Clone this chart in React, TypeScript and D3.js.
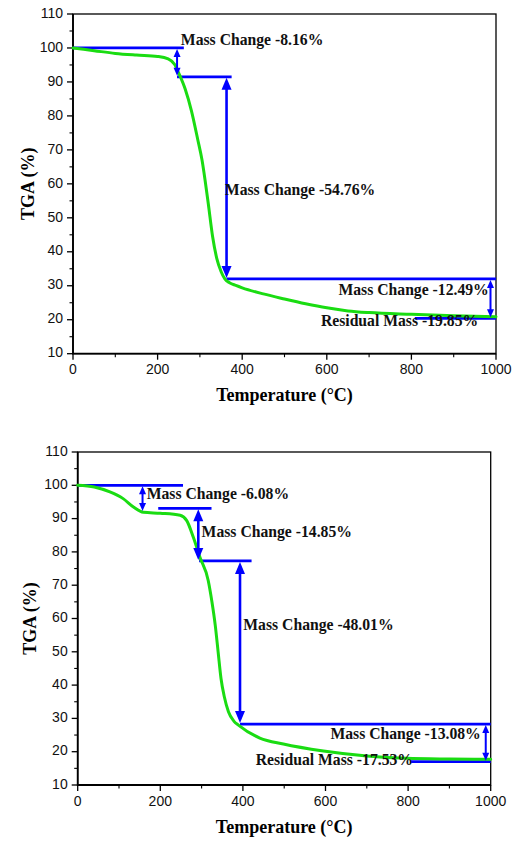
import React from "react";
import * as d3 from "d3";

// ---------- Data ----------
const xTicks = [0, 200, 400, 600, 800, 1000];
const yTicks = [10, 20, 30, 40, 50, 60, 70, 80, 90, 100, 110];

// Chart 1 curve
const temp1 = [0, 50, 100, 150, 200, 225, 240, 250, 265, 280, 295, 305, 312, 320, 330, 340, 350, 359, 370, 385, 400, 450, 500, 550, 600, 650, 700, 800, 900, 1000];
const tga1 = [100, 99.2, 98.4, 97.9, 97.5, 96.8, 95.2, 92.6, 88, 81.5, 73, 67, 61.3, 54, 44.5, 38, 34.2, 32, 30.9, 30.1, 29.4, 27.6, 26.1, 24.7, 23.5, 22.6, 22.1, 21.6, 21.2, 20.9];

// Chart 1 annotations (data coordinates)
const hLineY1 = [100, 91.5, 32, 20.4];
const hLineX1a = [0, 246, 363, 808];
const hLineX1b = [262, 375, 1000, 1000];
const arrowX1 = [246, 363, 987];
const arrowTop1 = [100, 91.5, 32];
const arrowBot1 = [91.5, 32, 20.4];
const arrowBig1 = [false, true, false];
const labels1 = ["Mass Change -8.16%", "Mass Change -54.76%", "Mass Change -12.49%", "Residual Mass -19.85%"];
const labelX1 = [255, 359, 983, 958];
const labelY1 = [101.9, 57.7, 28.3, 19.1];
const labelAnchor1 = ["start", "start", "end", "end"];

// Chart 2 curve
const temp2 = [0, 40, 78, 110, 135, 159, 200, 248, 264, 280, 296, 316, 325, 333, 340, 347, 355, 365, 378, 390, 441, 498, 595, 700, 796, 900, 1000];
const tga2 = [100, 99.5, 98, 96, 93.5, 91.9, 91.6, 91, 89.4, 84.4, 78.4, 71.4, 65, 58, 50, 42, 36.5, 32, 29.2, 27.9, 24.1, 22.3, 20.2, 18.7, 18.0, 17.8, 17.7];

// Chart 2 annotations
const hLineY2 = [100, 93.1, 77.3, 28.3, 17.0];
const hLineX2a = [0, 195, 294, 393, 805];
const hLineX2b = [255, 324, 421, 1000, 1000];
const arrowX2 = [157, 292, 393, 988];
const arrowTop2 = [100, 93.1, 77.3, 28.3];
const arrowBot2 = [92, 77.3, 28.3, 17.0];
const arrowBig2 = [false, true, true, false];
const labels2 = ["Mass Change -6.08%", "Mass Change -14.85%", "Mass Change -48.01%", "Mass Change -13.08%", "Residual Mass -17.53%"];
const labelX2 = [167, 300, 401, 976, 812];
const labelY2 = [97.1, 85.6, 57.5, 25.0, 17.2];
const labelAnchor2 = ["start", "start", "start", "end", "end"];

const BLUE = "#0000ff";
const GREEN = "#1adc12";
const SERIF = "'Liberation Serif', 'Times New Roman', serif";
const SANS = "'Liberation Sans', Arial, sans-serif";

type ChartProps = {
  left: number; right: number; top: number; bottom: number;
  temps: number[]; vals: number[];
  hY: number[]; hXa: number[]; hXb: number[];
  aX: number[]; aTop: number[]; aBot: number[]; aBig: boolean[];
  labels: string[]; lX: number[]; lY: number[]; lA: string[];
  tgaLabelX: number; tempLabelY: number;
};

function Chart(p: ChartProps) {
  const x = d3.scaleLinear().domain([0, 1000]).range([p.left, p.right]);
  const y = d3.scaleLinear().domain([10, 110]).range([p.bottom, p.top]);
  const pts: [number, number][] = p.temps.map((t, i) => [t, p.vals[i]]);
  const line = d3.line<[number, number]>().x(d => x(d[0])).y(d => y(d[1])).curve(d3.curveMonotoneX);
  const minorX = d3.range(100, 1000, 200);
  const minorY = d3.range(15, 110, 10);

  const arrow = (i: number) => {
    const ax = x(p.aX[i]);
    const y1 = y(p.aTop[i]);
    const y2 = y(p.aBot[i]);
    const big = p.aBig[i];
    const hw = big ? 5 : 3.5;
    const hl = big ? 13 : Math.min(9, (y2 - y1) / 2.2);
    return (
      <g key={"a" + i}>
        <line x1={ax} x2={ax} y1={y1 + hl - 1} y2={y2 - hl + 1} stroke={BLUE} strokeWidth={big ? 2.6 : 2} />
        <path d={`M${ax},${y1 + 1}L${ax - hw},${y1 + hl}L${ax + hw},${y1 + hl}Z`} fill={BLUE} />
        <path d={`M${ax},${y2 - 1}L${ax - hw},${y2 - hl}L${ax + hw},${y2 - hl}Z`} fill={BLUE} />
      </g>
    );
  };

  return (
    <g>
      {/* frame */}
      <rect x={p.left} y={p.top} width={p.right - p.left} height={p.bottom - p.top} fill="none" stroke="#000" strokeWidth={1.3} />
      <path d={`M${p.left},${p.top}V${p.bottom}H${p.right}`} fill="none" stroke="#000" strokeWidth={1.8} />
      {/* x ticks */}
      {xTicks.map(t => (
        <g key={"xt" + t}>
          <line x1={x(t)} x2={x(t)} y1={p.bottom} y2={p.bottom + 6} stroke="#000" strokeWidth={1.3} />
          <text x={x(t)} y={p.bottom + 17} textAnchor="middle" dominantBaseline="middle" fontFamily={SANS} fontSize={14} fill="#111">{t}</text>
        </g>
      ))}
      {minorX.map(t => (
        <line key={"xm" + t} x1={x(t)} x2={x(t)} y1={p.bottom} y2={p.bottom + 3.5} stroke="#000" strokeWidth={1.1} />
      ))}
      {/* y ticks */}
      {yTicks.map(t => (
        <g key={"yt" + t}>
          <line x1={p.left - 6} x2={p.left} y1={y(t)} y2={y(t)} stroke="#000" strokeWidth={1.3} />
          <text x={p.left - 10} y={y(t)} textAnchor="end" dominantBaseline="middle" fontFamily={SANS} fontSize={14} fill="#111">{t}</text>
        </g>
      ))}
      {minorY.map(t => (
        <line key={"ym" + t} x1={p.left - 3.5} x2={p.left} y1={y(t)} y2={y(t)} stroke="#000" strokeWidth={1.1} />
      ))}
      {/* axis titles */}
      <text x={(p.left + p.right) / 2} y={p.tempLabelY} textAnchor="middle" dominantBaseline="middle" fontFamily={SERIF} fontWeight="bold" fontSize={18}>Temperature (°C)</text>
      <text transform={`translate(${p.tgaLabelX},${(p.top + p.bottom) / 2}) rotate(-90)`} textAnchor="middle" dominantBaseline="middle" fontFamily={SERIF} fontWeight="bold" fontSize={18}>TGA (%)</text>
      {/* horizontal annotation lines */}
      {p.hY.map((v, i) => (
        <line key={"h" + i} x1={x(p.hXa[i])} x2={x(p.hXb[i])} y1={y(v)} y2={y(v)} stroke={BLUE} strokeWidth={2.8} />
      ))}
      {/* curve */}
      <path d={line(pts) || ""} fill="none" stroke={GREEN} strokeWidth={3} strokeLinejoin="round" strokeLinecap="round" />
      {/* arrows */}
      {p.aX.map((_, i) => arrow(i))}
      {/* labels */}
      {p.labels.map((s, i) => (
        <text key={"l" + i} x={x(p.lX[i])} y={y(p.lY[i])} textAnchor={p.lA[i] as any} dominantBaseline="middle" fontFamily={SERIF} fontWeight="bold" fontSize={15.7} fill="#111">{s}</text>
      ))}
    </g>
  );
}

export default function App() {
  return (
    <svg width={520} height={842} style={{ position: "absolute", left: 0, top: 0, background: "#fff" }}>
      <rect width={520} height={842} fill="#fff" />
      <Chart left={73} right={496} top={14} bottom={353.7}
        temps={temp1} vals={tga1}
        hY={hLineY1} hXa={hLineX1a} hXb={hLineX1b}
        aX={arrowX1} aTop={arrowTop1} aBot={arrowBot1} aBig={arrowBig1}
        labels={labels1} lX={labelX1} lY={labelY1} lA={labelAnchor1}
        tgaLabelX={30} tempLabelY={397} />
      <Chart left={77.7} right={490.7} top={452} bottom={785}
        temps={temp2} vals={tga2}
        hY={hLineY2} hXa={hLineX2a} hXb={hLineX2b}
        aX={arrowX2} aTop={arrowTop2} aBot={arrowBot2} aBig={arrowBig2}
        labels={labels2} lX={labelX2} lY={labelY2} lA={labelAnchor2}
        tgaLabelX={32} tempLabelY={829} />
    </svg>
  );
}
